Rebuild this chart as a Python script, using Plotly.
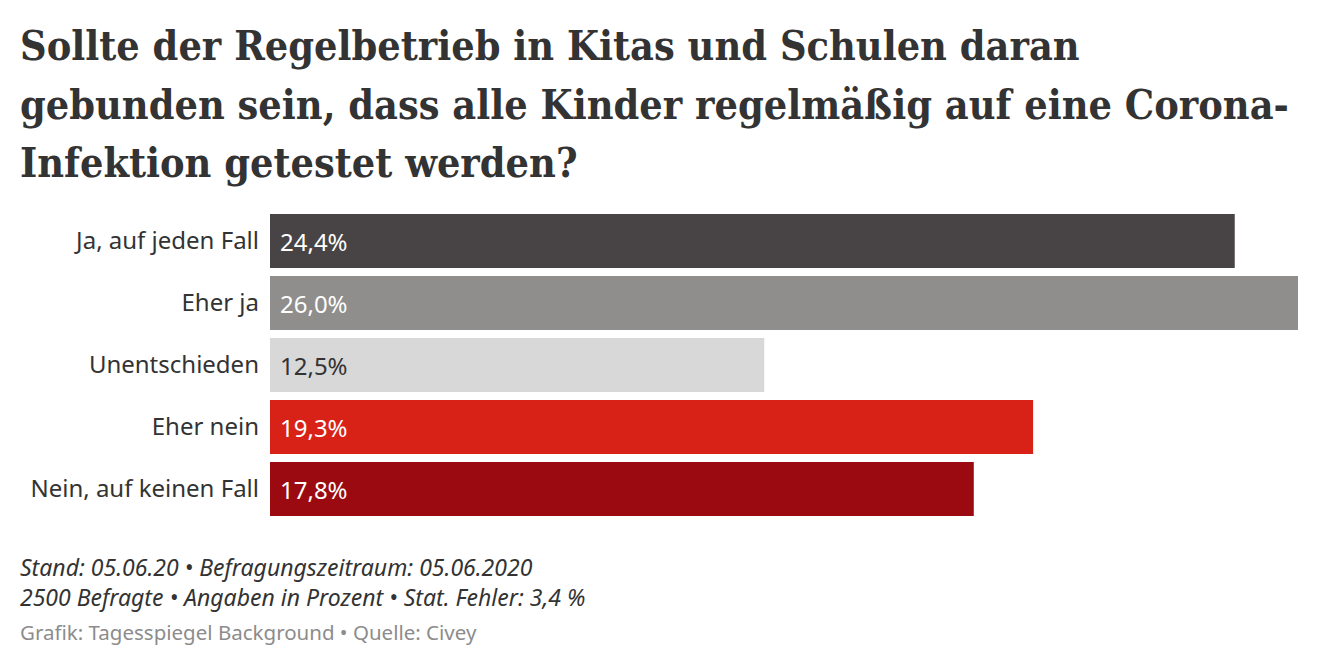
import plotly.graph_objects as go

categories = ["Ja, auf jeden Fall", "Eher ja", "Unentschieden", "Eher nein", "Nein, auf keinen Fall"]
values = [24.4, 26.0, 12.5, 19.3, 17.8]
value_labels = ["24,4%", "26,0%", "12,5%", "19,3%", "17,8%"]
colors = ["#484445", "#8f8e8c", "#d8d8d8", "#d92217", "#9b0a10"]
text_colors = ["#ffffff", "#ffffff", "#333333", "#ffffff", "#ffffff"]

title_lines = [
    "Sollte der Regelbetrieb in Kitas und Schulen daran",
    "gebunden sein, dass alle Kinder regelmäßig auf eine Corona-",
    "Infektion getestet werden?",
]
note_lines = [
    "Stand: 05.06.20 • Befragungszeitraum: 05.06.2020",
    "2500 Befragte • Angaben in Prozent • Stat. Fehler: 3,4 %",
]
source = "Grafik: Tagesspiegel Background • Quelle: Civey"

# plot area in figure pixels (page has an 8px body margin)
L, T, R, B = 262, 202, 30, 156
W, H = 1320, 668
PW, PH = W - L - R, H - T - B


def px(fx):
    return (fx - L) / PW


def py(fy):
    return (H - B - fy) / PH


SANS = "Noto Sans, Open Sans, sans-serif"

fig = go.Figure(go.Bar(
    x=values, y=categories, orientation="h",
    marker=dict(color=colors, line=dict(width=0)),
    hoverinfo="skip",
))

for cat, lab, tc in zip(categories, value_labels, text_colors):
    fig.add_annotation(
        x=0, y=cat, xref="x", yref="y", text=lab, showarrow=False,
        xanchor="left", yanchor="middle", xshift=8,
        font=dict(family=SANS, size=24, color=tc),
    )

fig.update_layout(
    width=W, height=H,
    margin=dict(l=L, r=R, t=T, b=B),
    paper_bgcolor="white", plot_bgcolor="white",
    bargap=0.129, showlegend=False,
    xaxis=dict(range=[0, 26], visible=False, fixedrange=True),
    yaxis=dict(autorange="reversed", showgrid=False, zeroline=False, showline=False,
               ticks="", ticklabelstandoff=10,
               tickfont=dict(family=SANS, size=24, color="#333333")),
)

for i, line in enumerate(title_lines):
    fig.add_annotation(
        text=line, xref="paper", yref="paper",
        x=px(10), y=py(12 + 58.5 * i), xanchor="left", yanchor="top", align="left",
        showarrow=False,
        font=dict(family="DejaVu Serif Condensed, DejaVu Serif, serif", size=41,
                  color="#333333", weight="bold"),
    )
fig.add_annotation(
    text="<i>" + "<br>".join(note_lines) + "</i>", xref="paper", yref="paper",
    x=px(10), y=py(541), xanchor="left", yanchor="top", align="left",
    showarrow=False,
    font=dict(family=SANS, size=23, color="#333333"),
)
fig.add_annotation(
    text=source, xref="paper", yref="paper",
    x=px(10), y=py(608), xanchor="left", yanchor="top", align="left",
    showarrow=False,
    font=dict(family=SANS, size=20.5, color="#8c8c8c"),
)

fig.write_html("out.html")
